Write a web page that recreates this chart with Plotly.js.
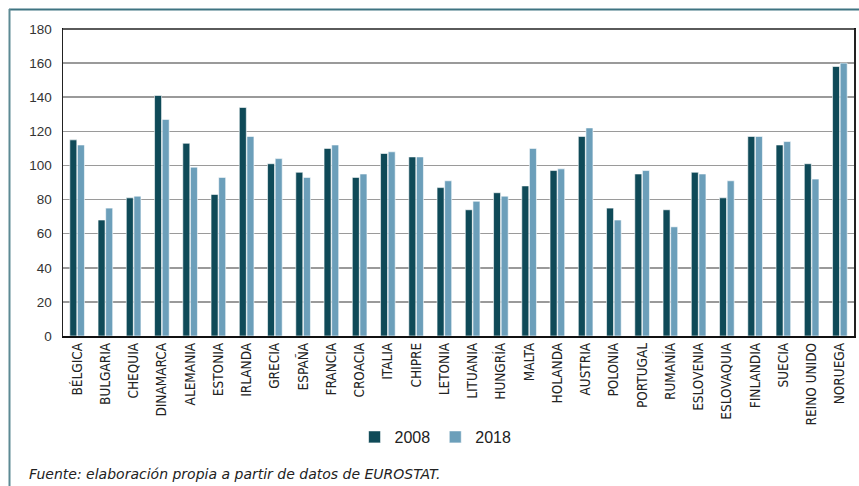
<!DOCTYPE html>
<html>
<head>
<meta charset="utf-8">
<script src="https://cdn.plot.ly/plotly-3.0.1.min.js"></script>
<style>html,body{margin:0;padding:0;background:#fff;}#chart{width:859px;height:486px;}</style>
</head>
<body>
<div id="chart"></div>
<script>
const categories = ["BÉLGICA","BULGARIA","CHEQUIA","DINAMARCA","ALEMANIA","ESTONIA","IRLANDA","GRECIA","ESPAÑA","FRANCIA","CROACIA","ITALIA","CHIPRE","LETONIA","LITUANIA","HUNGRÍA","MALTA","HOLANDA","AUSTRIA","POLONIA","PORTUGAL","RUMANÍA","ESLOVENIA","ESLOVAQUIA","FINLANDIA","SUECIA","REINO UNIDO","NORUEGA"];
const values2008 = [115,68,81,141,113,83,134,101,96,110,93,107,105,87,74,84,88,97,117,75,95,74,96,81,117,112,101,158];
const values2018 = [112,75,82,127,99,93,117,104,93,112,95,108,105,91,79,82,110,98,122,68,97,64,95,91,117,114,92,160];
const yTicks = [0,20,40,60,80,100,120,140,160,180];
const seriesNames = ["2008","2018"];

const condensed = "'DejaVu Sans Condensed','Liberation Sans Narrow','Roboto Condensed','Roboto',sans-serif";

const px = (p) => (p - 63) / 791;
const py = (p) => (336 - p) / 307;

const traces = [
  {type:'bar', name:seriesNames[0], x:categories, y:values2008,
   marker:{color:'#0f4a58', line:{color:'#ffffff', width:0.6}}},
  {type:'bar', name:seriesNames[1], x:categories, y:values2018,
   marker:{color:'#6c9fba', line:{color:'#ffffff', width:0.6}}}
];

const layout = {
  width:859, height:486,
  margin:{l:63, r:5, t:29, b:150},
  paper_bgcolor:'#ffffff', plot_bgcolor:'#ffffff',
  barmode:'group', bargap:0.46, bargroupgap:0.08,
  showlegend:true,
  legend:{orientation:'h', x:0.471, xanchor:'center', y:py(437), yanchor:'middle',
          font:{family:"'Liberation Sans','Roboto',sans-serif", size:16, color:'#222'},
          itemwidth:30, tracegroupgap:0, traceorder:'normal'},
  xaxis:{type:'category', tickangle:-90, tickfont:{family:condensed, size:13.5, color:'#222'},
         showline:true, linecolor:'#111', linewidth:1.5, mirror:true,
         ticks:'', showgrid:false, automargin:false},
  yaxis:{range:[0,180], tickvals:yTicks, ticktext:yTicks.map(String),
         tickfont:{family:"'Liberation Sans','Arial',sans-serif", size:13.5, color:'#333'},
         showline:true, linecolor:'#222', linewidth:1.5, mirror:true,
         showgrid:true, gridcolor:'#9a9a9a', gridwidth:1.5, zeroline:false,
         ticks:'', ticklabelstandoff:7, automargin:false},
  shapes:[
    {type:'line', xref:'paper', yref:'paper', x0:px(9), x1:px(859), y0:py(9.5), y1:py(9.5),
     line:{color:'#3f7482', width:2}},
    {type:'line', xref:'paper', yref:'paper', x0:px(9.5), x1:px(9.5), y0:py(9), y1:py(490),
     line:{color:'#5d8a94', width:2}},
    {type:'line', xref:'paper', yref:'paper', x0:0, x1:1, y0:1, y1:1,
     line:{color:'#5a5a5a', width:2}}
  ],
  annotations:[
    {xref:'paper', yref:'paper', x:px(27), y:py(474), xanchor:'left', yanchor:'middle',
     text:'<i>Fuente: elaboración propia a partir de datos de EUROSTAT.</i>', showarrow:false,
     font:{family:"'DejaVu Sans','Roboto',sans-serif", size:14, color:'#222'}}
  ]
};

Plotly.newPlot('chart', traces, layout, {displayModeBar:false, staticPlot:true});
</script>
</body>
</html>
